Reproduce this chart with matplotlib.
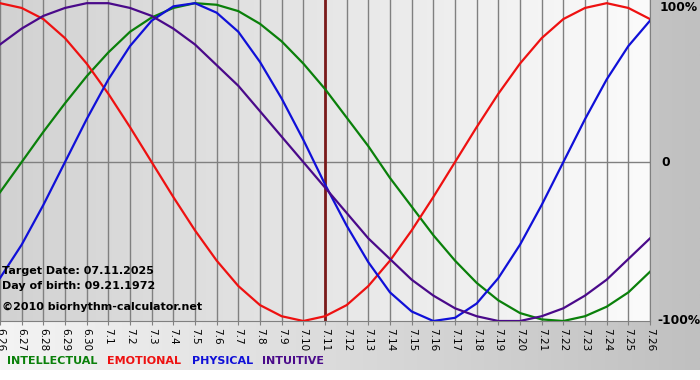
import matplotlib
matplotlib.use("Agg")
import matplotlib.pyplot as plt
import numpy as np
from matplotlib.colors import LinearSegmentedColormap

# %%
# Data: one value per day, 6.26 .. 7.26
# -------------------------------------
dates = ["6.26", "6.27", "6.28", "6.29", "6.30", "7.1", "7.2", "7.3", "7.4", "7.5",
         "7.6", "7.7", "7.8", "7.9", "7.10", "7.11", "7.12", "7.13", "7.14", "7.15",
         "7.16", "7.17", "7.18", "7.19", "7.20", "7.21", "7.22", "7.23", "7.24",
         "7.25", "7.26"]
target_idx = 15  # 7.11

intellectual = [-0.19, 0.00, 0.19, 0.37, 0.54, 0.69, 0.82, 0.91, 0.97, 1.00,
                0.99, 0.95, 0.87, 0.76, 0.62, 0.46, 0.28, 0.10, -0.10, -0.28,
                -0.46, -0.62, -0.76, -0.87, -0.95, -0.99, -1.00, -0.97, -0.91,
                -0.82, -0.69]
emotional = [1.00, 0.97, 0.90, 0.78, 0.62, 0.43, 0.22, 0.00, -0.22, -0.43,
             -0.62, -0.78, -0.90, -0.97, -1.00, -0.97, -0.90, -0.78, -0.62, -0.43,
             -0.22, 0.00, 0.22, 0.43, 0.62, 0.78, 0.90, 0.97, 1.00, 0.97, 0.90]
physical = [-0.73, -0.52, -0.27, 0.00, 0.27, 0.52, 0.73, 0.89, 0.98, 1.00,
            0.94, 0.82, 0.63, 0.40, 0.14, -0.14, -0.40, -0.63, -0.82, -0.94,
            -1.00, -0.98, -0.89, -0.73, -0.52, -0.27, 0.00, 0.27, 0.52, 0.73, 0.89]
intuitive = [0.74, 0.84, 0.92, 0.97, 1.00, 1.00, 0.97, 0.92, 0.84, 0.74,
             0.61, 0.48, 0.32, 0.16, 0.00, -0.16, -0.32, -0.48, -0.61, -0.74,
             -0.84, -0.92, -0.97, -1.00, -1.00, -0.97, -0.92, -0.84, -0.74,
             -0.61, -0.48]

series = [
    ("INTELLECTUAL", intellectual, "#0a800a"),
    ("EMOTIONAL", emotional, "#ee1111"),
    ("PHYSICAL", physical, "#1010d8"),
    ("INTUITIVE", intuitive, "#4a0a8a"),
]

W, H = 700, 380
fig = plt.figure(figsize=(W / 100, H / 100), dpi=100)

# %%
# Backgrounds
# -----------
bg = fig.add_axes([0, 0, 1, 1], zorder=-10)
bg.set_xlim(0, W)
bg.set_ylim(H, 0)
bg.axis("off")
fig_cmap = LinearSegmentedColormap.from_list("figbg", ["#f4f4f4", "#c0c0c0"])
bg.imshow(np.linspace(0, 1, 256)[None, :], cmap=fig_cmap, aspect="auto",
          extent=[0, W, 370, 0])

plot_w, plot_h = 650, 321
ax = fig.add_axes([0, 1 - plot_h / H, plot_w / W, plot_h / H])
x = np.arange(len(dates))

ax_cmap = LinearSegmentedColormap.from_list("axbg", ["#d2d2d2", "#fbfbfb"])
ax.imshow(np.linspace(0, 1, 256)[None, :], cmap=ax_cmap, aspect="auto",
          extent=[0, 1, 0, 1], transform=ax.transAxes, zorder=0)

for xi in x:
    ax.axvline(xi, color="#808080", lw=1, zorder=1)
ax.axhline(0, color="#808080", lw=1, zorder=1)
ax.axvline(x[target_idx], color="#7a1a1a", lw=2, zorder=2)

for name, vals, color in series:
    ax.plot(x, vals, color=color, lw=1.6, zorder=3)

ax.set_xlim(0, len(dates) - 1)
ax.set_ylim(-1.0, 1.02)
ax.set_yticks([])
ax.set_xticks(x)
ax.set_xticklabels(dates, rotation=-90, fontsize=7.5, va="top", ha="center")
ax.tick_params(axis="x", length=3, color="#808080", pad=2)
for side in ["top", "left"]:
    ax.spines[side].set_visible(False)
ax.spines["bottom"].set_color("#808080")
ax.spines["right"].set_color("#808080")

# right-hand percentage labels
ytr = ax.get_yaxis_transform()
ax.text(1.015, 0.97, "100%", transform=ytr, fontsize=8.8, fontweight="bold",
        va="center", ha="left")
ax.text(1.018, 0.0, "0", transform=ytr, fontsize=8.8, fontweight="bold",
        va="center", ha="left")
ax.text(1.012, -1.0, "-100%", transform=ytr, fontsize=8.8, fontweight="bold",
        va="center", ha="left", clip_on=False)

# info text inside the plot
info = ["Target Date: 07.11.2025", "Day of birth: 09.21.1972"]
for i, line in enumerate(info):
    fig.text(2 / W, 1 - (271 + i * 15) / H, line, fontsize=8, fontweight="bold",
             va="center", ha="left")
fig.text(2 / W, 1 - 307 / H, "\u00a92010 biorhythm-calculator.net", fontsize=8,
         fontweight="bold", va="center", ha="left")

# legend words along the bottom
legend_x = [7, 107, 192, 262]
for (name, vals, color), lx in zip(series, legend_x):
    fig.text(lx / W, 1 - 361 / H, name, color=color, fontsize=8,
             fontweight="bold", va="center", ha="left")

fig.savefig("out.png", dpi=100)
